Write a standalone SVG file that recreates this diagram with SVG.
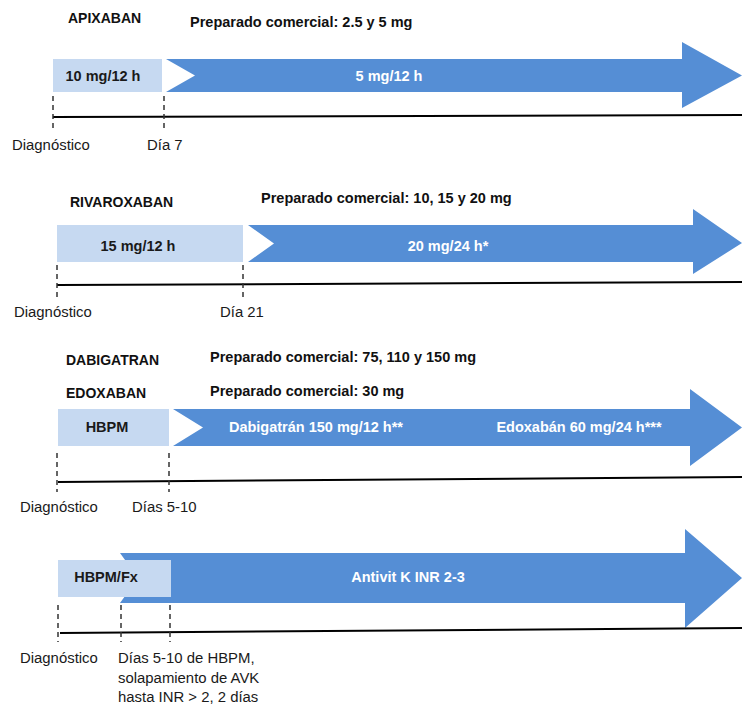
<svg xmlns="http://www.w3.org/2000/svg" width="742" height="705" viewBox="0 0 742 705">
  <style>
    text { font-family: "Liberation Sans", Arial, sans-serif; }
    .title { font-size: 14px; font-weight: bold; fill: #111; }
    .bold { font-size: 14.5px; font-weight: bold; fill: #111; }
    .dose { font-size: 14.5px; font-weight: bold; fill: #1a1a1a; }
    .white { font-size: 14.5px; font-weight: bold; fill: #ffffff; }
    .lbl { font-size: 14.9px; fill: #1a1a1a; }
    .box { fill: #c6d9f1; }
    .arrow { fill: #558ed5; }
    .axis { stroke: #000; stroke-width: 2; fill: none; }
    .tick { stroke: #333; stroke-width: 1.5; stroke-dasharray: 5 4; fill: none; }
  </style>

  <!-- Apixaban -->
  <g id="apixaban">
    <text class="title" x="68" y="22.5">APIXABAN</text>
    <text class="bold" x="190" y="27">Preparado comercial: 2.5 y 5 mg</text>
    <rect class="box" x="53" y="59" width="109" height="33"/>
    <polygon class="arrow" points="166,59 682,59 682,42 742,75.5 682,108 682,92 166,92 195,75.5"/>
    <text class="dose" x="103" y="80.5" text-anchor="middle">10 mg/12 h</text>
    <text class="white" x="389" y="80.5" text-anchor="middle">5 mg/12 h</text>
    <text class="lbl" x="12" y="150">Diagnóstico</text>
    <text class="lbl" x="147" y="150">Día 7</text>
  </g>

  <!-- Rivaroxaban -->
  <g id="rivaroxaban">
    <text class="title" x="70" y="206.5">RIVAROXABAN</text>
    <text class="bold" x="261" y="202.5">Preparado comercial: 10, 15 y 20 mg</text>
    <rect class="box" x="57" y="225" width="186" height="37"/>
    <polygon class="arrow" points="248,225 693,225 693,209 742,243 693,274 693,262 248,262 274,243.5"/>
    <text class="dose" x="138" y="250.5" text-anchor="middle">15 mg/12 h</text>
    <text class="white" x="448" y="250.5" text-anchor="middle">20 mg/24 h*</text>
    <text class="lbl" x="14" y="317">Diagnóstico</text>
    <text class="lbl" x="220" y="317">Día 21</text>
  </g>

  <!-- Dabigatran / Edoxaban -->
  <g id="dabigatran-edoxaban">
    <text class="title" x="66" y="365">DABIGATRAN</text>
    <text class="title" x="66" y="398">EDOXABAN</text>
    <text class="bold" x="210" y="362">Preparado comercial: 75, 110 y 150 mg</text>
    <text class="bold" x="210" y="395.5">Preparado comercial: 30 mg</text>
    <rect class="box" x="58" y="409" width="111" height="37"/>
    <polygon class="arrow" points="173,409 690,409 690,389 742,427.5 690,466 690,446 173,446 203,427.5"/>
    <text class="dose" x="107" y="432" text-anchor="middle">HBPM</text>
    <text class="white" x="316" y="432" text-anchor="middle">Dabigatrán 150 mg/12 h**</text>
    <text class="white" x="579" y="432" text-anchor="middle">Edoxabán 60 mg/24 h***</text>
    <text class="lbl" x="20" y="512">Diagnóstico</text>
    <text class="lbl" x="132" y="512">Días 5-10</text>
  </g>

  <!-- Antivitamina K -->
  <g id="avk">
    <polygon class="arrow" points="120,553 685,553 685,529 742,578 685,628 685,603 120,603 138,578"/>
    <rect class="box" x="58" y="560" width="113" height="37"/>
    <text class="dose" x="106" y="582" text-anchor="middle">HBPM/Fx</text>
    <text class="white" x="408" y="582" text-anchor="middle">Antivit K INR 2-3</text>
    <text class="lbl" x="20" y="663">Diagnóstico</text>
    <text class="lbl" x="118" y="663">Días 5-10 de HBPM,</text>
    <text class="lbl" x="118" y="683">solapamiento de AVK</text>
    <text class="lbl" x="118" y="702">hasta INR &gt; 2, 2 días</text>
  </g>

  <!-- Time axes and dashed day markers -->
  <g id="connectors">
    <line class="axis" x1="53" y1="117" x2="742" y2="115"/>
    <line class="tick" x1="53" y1="96" x2="53" y2="128"/>
    <line class="tick" x1="164" y1="96" x2="164" y2="128"/>

    <line class="axis" x1="57" y1="285" x2="742" y2="282"/>
    <line class="tick" x1="57" y1="265" x2="57" y2="298"/>
    <line class="tick" x1="243" y1="265" x2="243" y2="298"/>

    <line class="axis" x1="58" y1="482" x2="742" y2="477"/>
    <line class="tick" x1="57" y1="453" x2="57" y2="492"/>
    <line class="tick" x1="169" y1="453" x2="169" y2="492"/>

    <line class="axis" x1="60" y1="633" x2="742" y2="628"/>
    <line class="tick" x1="58" y1="605" x2="58" y2="642"/>
    <line class="tick" x1="121" y1="605" x2="121" y2="642"/>
    <line class="tick" x1="170" y1="605" x2="170" y2="642"/>
  </g>
</svg>
